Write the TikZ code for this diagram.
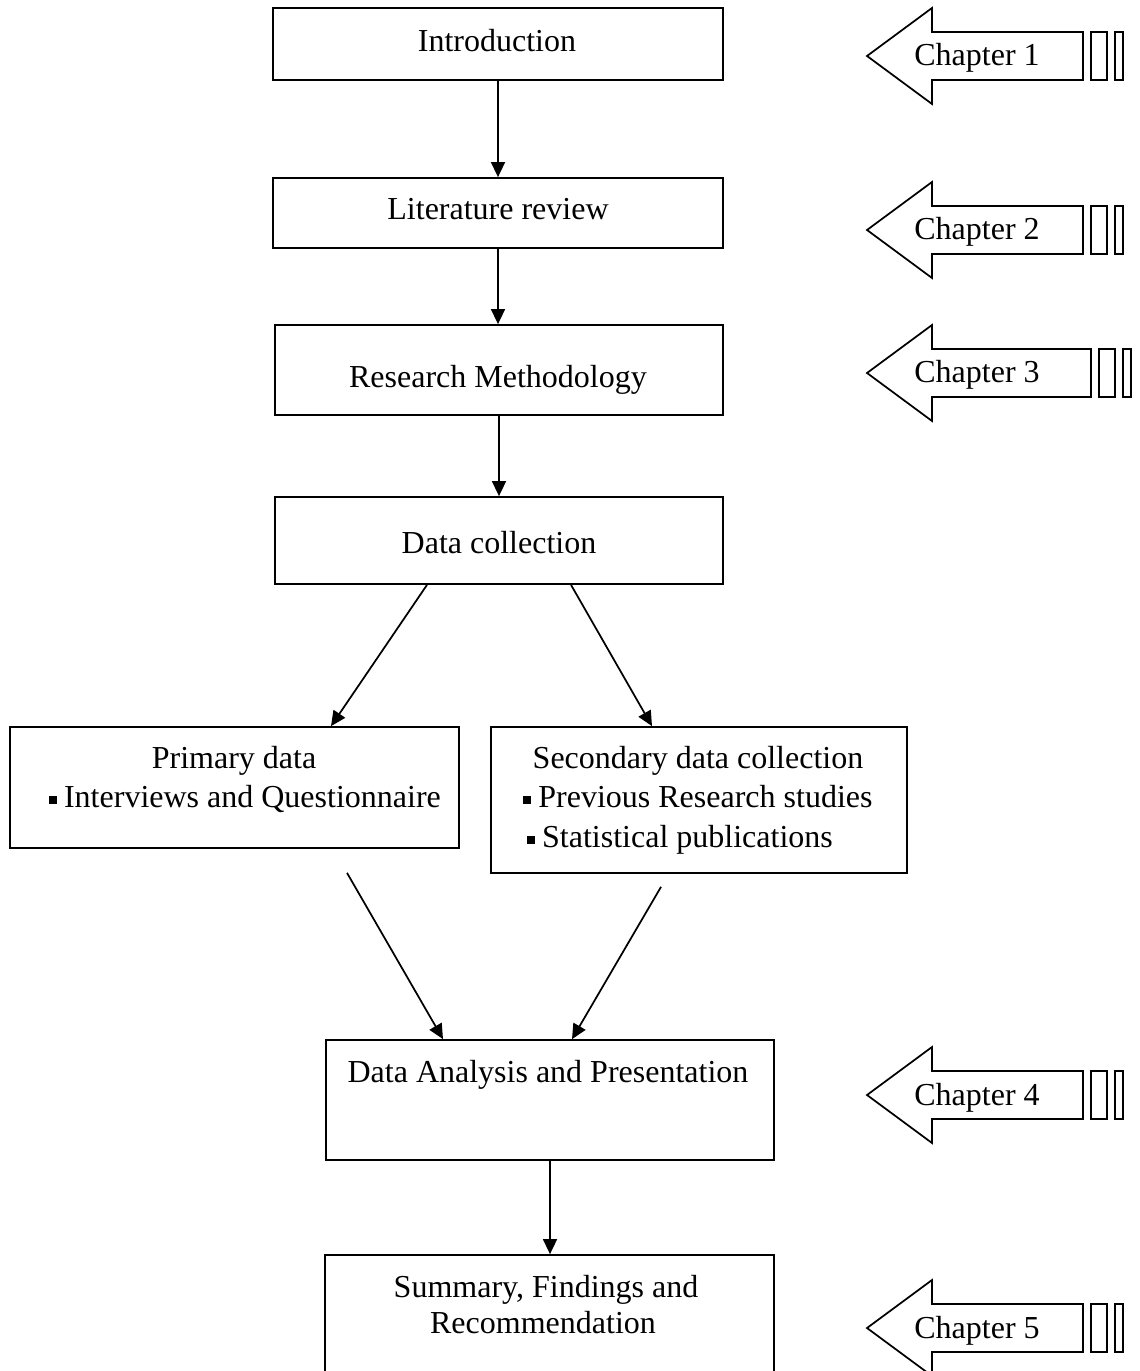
\documentclass[tikz,border=0pt]{standalone}
\usepackage{fontspec}
\setmainfont{Liberation Serif}
\usetikzlibrary{arrows.meta,fit,calc}
\newcommand\sqbul{\raisebox{1.1pt}{\rule{3pt}{3pt}}\hspace{2.6pt}}
\newcommand\chaparrow[4]{% name, y centre, shaft end x, label
  \draw[shapeline] (867,#2) -- (932,{#2-48}) -- (932,{#2-24}) -- (#3,{#2-24})
     -- (#3,{#2+24}) -- (932,{#2+24}) -- (932,{#2+48}) -- cycle;
  \draw[shapeline] ({#3+8},{#2-24}) rectangle ({#3+24},{#2+24});
  \draw[shapeline] ({#3+32},{#2-24}) rectangle ({#3+40},{#2+24});
  \node[txt] (#1) at (977,{#2+10}) {#4};}
\begin{document}
\begin{tikzpicture}[x=0.375pt,y=-0.375pt,
  font=\fontsize{12pt}{14.6pt}\selectfont,
  shapeline/.style={line width=0.65pt},
  box/.style={draw, line width=0.65pt, inner sep=0pt},
  txt/.style={anchor=base, inner sep=0pt},
  arr/.style={line width=0.65pt, -{Triangle[length=5.6pt,width=5.2pt]}}]
\useasboundingbox (0,0) rectangle (1139,1371);
\clip (0,0) rectangle (1139,1371);

% boxes
\node[box, fit={(273,8) (723,80)}] (intro) {};
\node[box, fit={(273,178) (723,248)}] (lit) {};
\node[box, fit={(275,325) (723,415)}] (rm) {};
\node[box, fit={(275,497) (723,584)}] (dc) {};
\node[box, fit={(10,727) (459,848)}] (prim) {};
\node[box, fit={(491,727) (907,873)}] (sec) {};
\node[box, fit={(326,1040) (774,1160)}] (da) {};
\node[box, fit={(325,1255) (774,1420)}] (sum) {};

% texts
\node[txt] (intro-t) at (497,52) {Introduction};
\node[txt] (lit-t) at (498,220) {Literature review};
\node[txt] (rm-t) at (498,388) {Research Methodology};
\node[txt] (dc-t) at (499,553) {Data collection};
\node[txt] (prim-1) at (234,768) {Primary data};
\node[txt] (prim-2) at (245,807) {\sqbul Interviews and Questionnaire};
\node[txt] (sec-1) at (698,768) {Secondary data collection};
\node[txt] (sec-2) at (698,807) {\sqbul Previous Research studies};
\node[txt] (sec-3) at (680,847) {\sqbul Statistical publications};
\node[txt] (da-t) at (548,1082) {Data Analysis and Presentation};
\node[txt] (sum-1) at (546,1297) {Summary, Findings and};
\node[txt] (sum-2) at (543,1333) {Recommendation};

% connectors
\draw[arr] (intro.south) -- (intro.south |- lit.north);
\draw[arr] (lit.south) -- (lit.south |- rm.north);
\draw[arr] (rm.south) -- (rm.south |- dc.north);
\draw[arr] ($(dc.south)+(-72,0)$) -- ($(prim.north)+(96.5,0)$);
\draw[arr] ($(dc.south)+(72,0)$) -- ($(sec.north)+(-47,0)$);
\draw[arr] ($(prim.south)+(112.5,24)$) -- ($(da.north)+(-107,0)$);
\draw[arr] ($(sec.south)+(-38,13)$) -- ($(da.north)+(22,0)$);
\draw[arr] (da.south) -- (da.south |- sum.north);

% chapter arrows
\chaparrow{ch1}{56}{1083}{Chapter 1}
\chaparrow{ch2}{230}{1083}{Chapter 2}
\chaparrow{ch3}{373}{1091}{Chapter 3}
\chaparrow{ch4}{1095}{1083}{Chapter 4}
\chaparrow{ch5}{1328}{1083}{Chapter 5}
\end{tikzpicture}
\end{document}
